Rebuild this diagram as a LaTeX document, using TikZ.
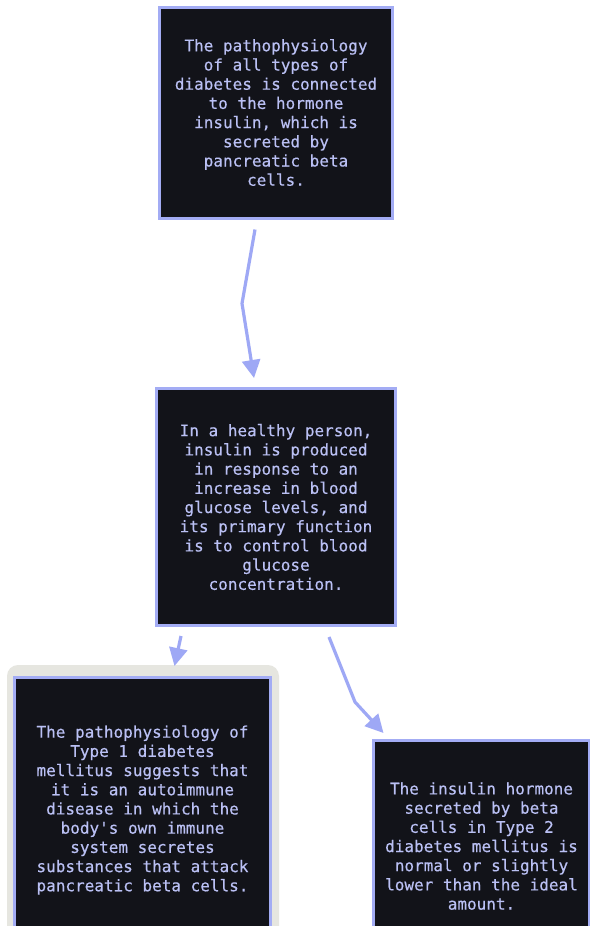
\documentclass[tikz,border=0pt]{standalone}
\usepackage{fontspec}
\setmonofont[FakeBold=0.35]{DejaVu Sans Mono}
\usetikzlibrary{arrows.meta,calc}
\definecolor{boxfill}{HTML}{121319}
\definecolor{boxline}{HTML}{A3ACF4}
\definecolor{boxtext}{HTML}{BAC0F4}
\definecolor{arrowc}{HTML}{9EA8F5}
\definecolor{halo}{HTML}{E6E6E0}
\tikzset{
  card/.style={draw=boxline, fill=boxfill, line width=3pt, inner sep=0pt,
    text=boxtext, align=center,
    font=\ttfamily\fontsize{16}{19.2}\selectfont},
  arr/.style={draw=arrowc, line width=3.2pt, line join=round,
    -{Triangle[width=18pt,length=18pt]}}
}
\begin{document}
\begin{tikzpicture}[x=1pt,y=-1pt]
\useasboundingbox (0,0) rectangle (589,926);
\fill[white] (0,0) rectangle (589,926);
% halo behind left box
\fill[halo, rounded corners=11pt] (7,665) rectangle (279,960);
\node[card, minimum width=233pt, minimum height=211pt] (b1) at (276,112.5)
  {The pathophysiology\\of all types of\\diabetes is connected\\to the hormone\\insulin, which is\\secreted by\\pancreatic beta\\cells.};
\node[card, minimum width=239pt, minimum height=237pt] (b2) at (276,507)
  {In a healthy person,\\insulin is produced\\in response to an\\increase in blood\\glucose levels, and\\its primary function\\is to control blood\\glucose\\concentration.};
\node[card, minimum width=256pt, minimum height=265pt] (b3) at (142.5,810)
  {The pathophysiology of\\Type 1 diabetes\\mellitus suggests that\\it is an autoimmune\\disease in which the\\body's own immune\\system secretes\\substances that attack\\pancreatic beta cells.};
\node[card, minimum width=216pt, minimum height=211pt] (b4) at (481.5,846)
  {The insulin hormone\\secreted by beta\\cells in Type 2\\diabetes mellitus is\\normal or slightly\\lower than the ideal\\amount.};
% connectors
\draw[arr] ($(b1.south)+(-21,10)$) -- ($(b1.south)+(-34,84)$) -- ($(b2.north)+(-22,-9)$);
\draw[arr] ($(b2.south)+(-95,9)$) -- ($(b3.north)+(32,-10)$);
\draw[arr] ($(b2.south)+(53,10)$) -- ($(b2.south)+(79,75)$) -- ($(b4.north)+(-98,-6)$);
\end{tikzpicture}
\end{document}
